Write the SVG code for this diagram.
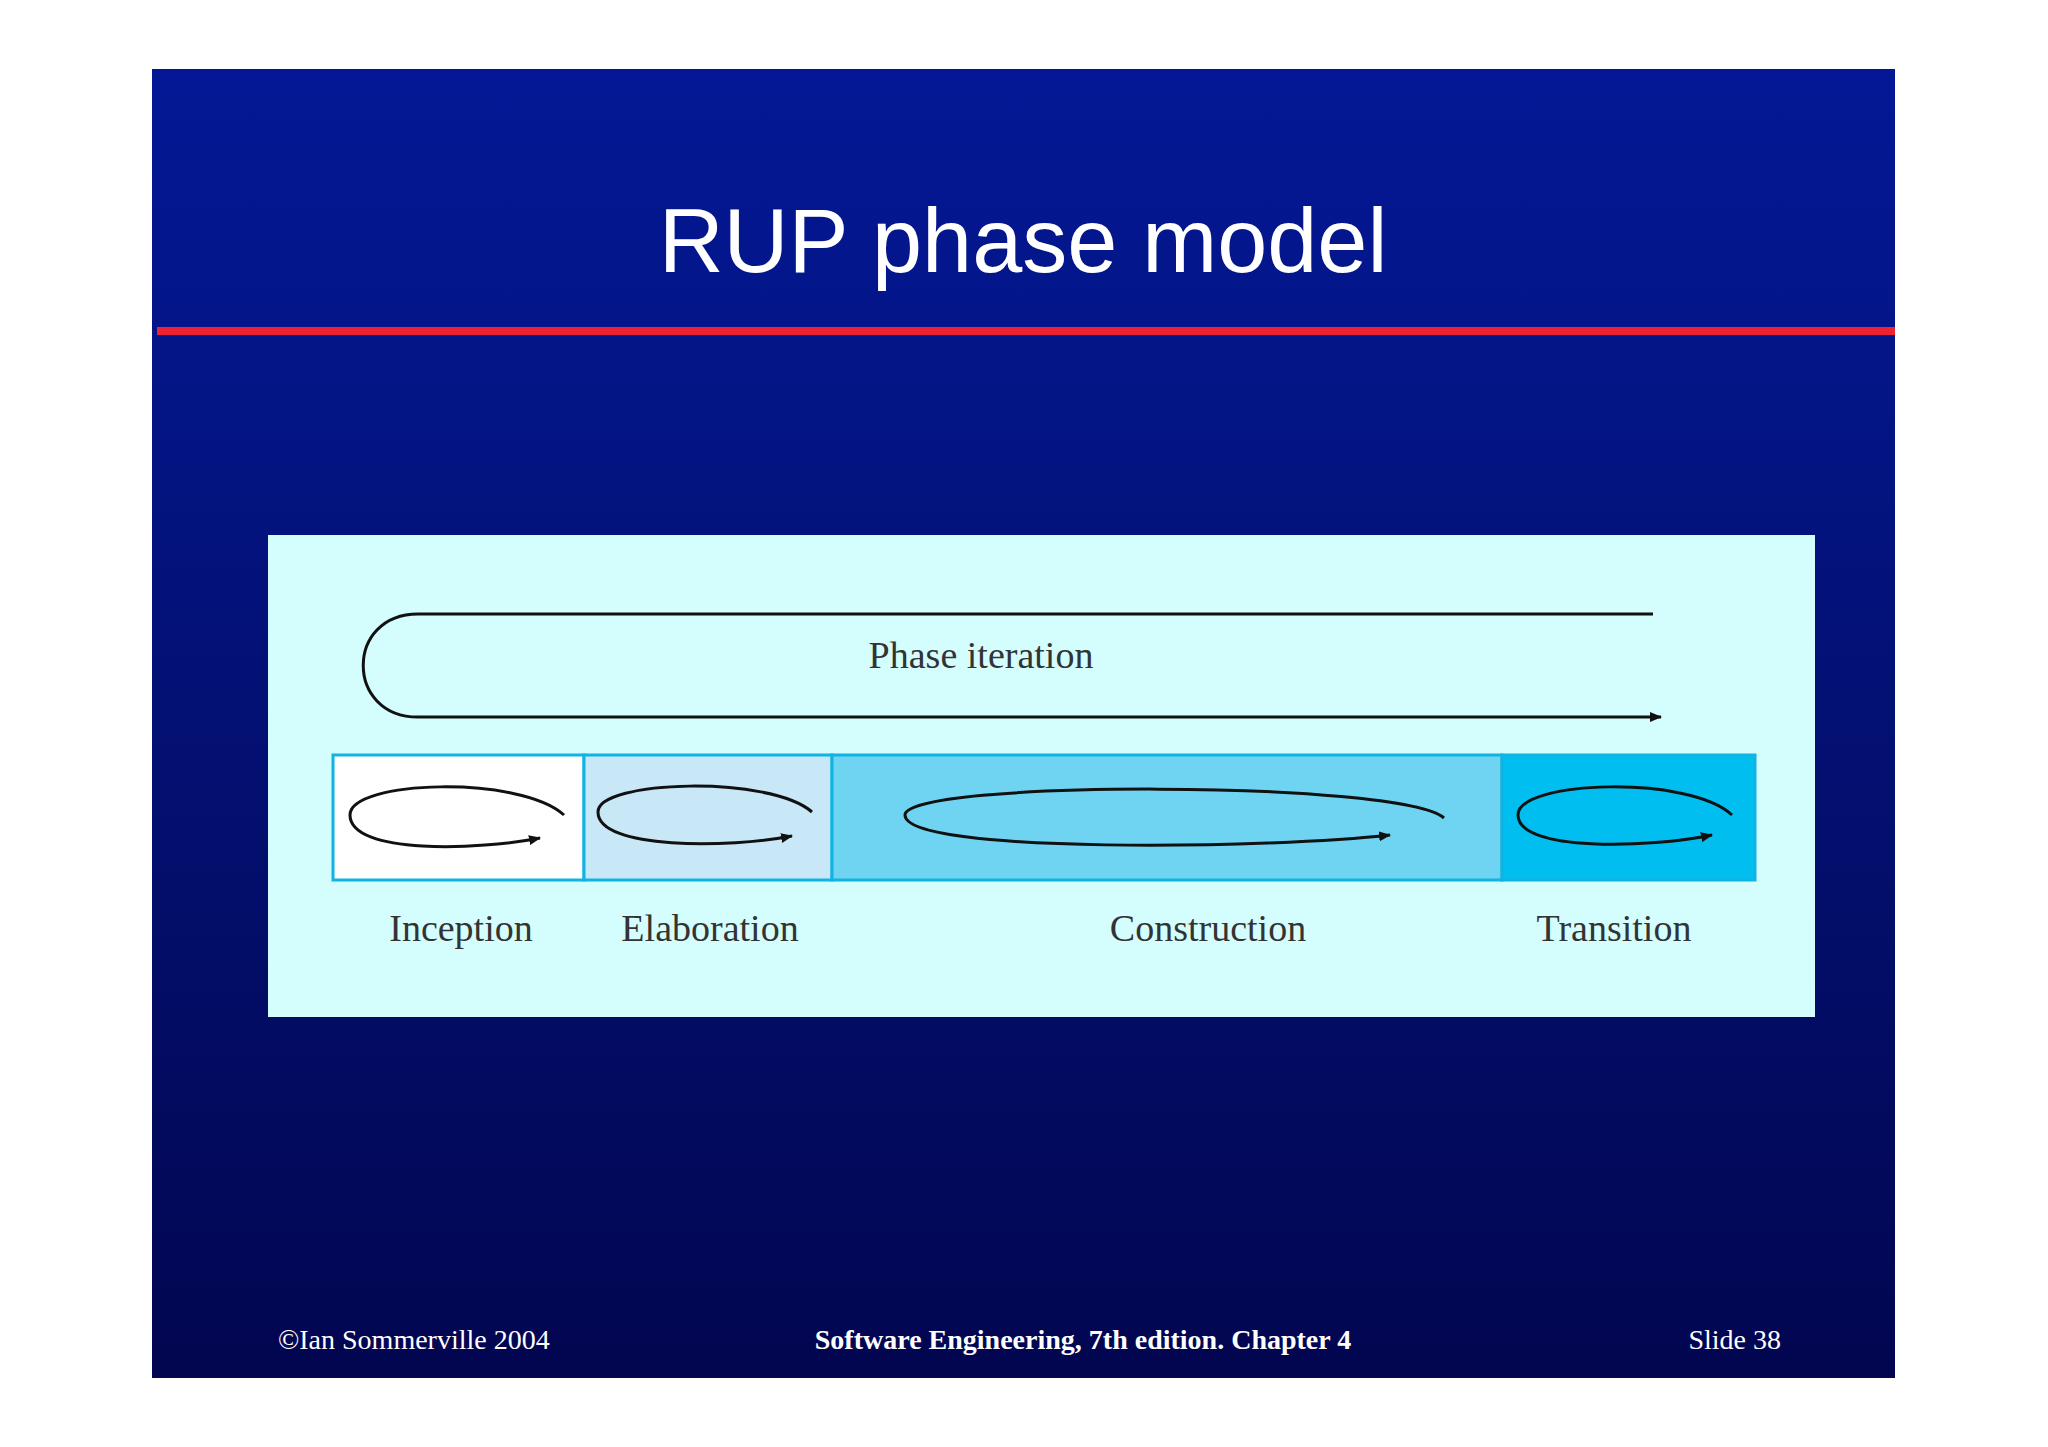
<svg xmlns="http://www.w3.org/2000/svg" width="2048" height="1447" viewBox="0 0 2048 1447">
<defs>
<linearGradient id="bg" x1="0" y1="0" x2="0" y2="1">
<stop offset="0" stop-color="#041896"/><stop offset="0.55" stop-color="#031070"/><stop offset="1" stop-color="#020650"/>
</linearGradient>
<marker id="ah" markerWidth="12" markerHeight="10" refX="11" refY="5" orient="auto" markerUnits="userSpaceOnUse">
<path d="M0,0 L12,5 L0,10 Z" fill="#111"/>
</marker>
<style>
.loop{fill:none;stroke:#111;stroke-width:3}
.lbl{font-family:"Liberation Serif",serif;font-size:38px;fill:#333;text-anchor:middle}
.foot{font-family:"Liberation Serif",serif;font-size:28px;fill:#fff}
.box{stroke:#11b4e0;stroke-width:3}
</style>
</defs>
<rect width="2048" height="1447" fill="#fff"/>
<rect x="152" y="69" width="1743" height="1309" fill="url(#bg)"/>
<text x="1023" y="272" font-family="Liberation Sans,Arial,sans-serif" font-size="90" fill="#fff" text-anchor="middle">RUP phase model</text>
<rect x="157" y="327" width="1738" height="8" fill="#ee2233"/>
<rect id="panel" x="268" y="535" width="1547" height="482" fill="#d4fdfd"/>
<g id="phase-iteration">
<path class="loop" d="M1653,614 L418,614 C345,614 345,717 418,717 L1661,717" marker-end="url(#ah)"/>
<text class="lbl" x="981" y="668">Phase iteration</text>
</g>
<g id="inception"><rect class="box" x="333" y="755" width="251" height="125" fill="#ffffff"/>
<text class="lbl" x="461" y="941">Inception</text></g>
<g id="elaboration"><rect class="box" x="584" y="755" width="248" height="125" fill="#c8e8f8"/>
<text class="lbl" x="710" y="941">Elaboration</text></g>
<g id="construction"><rect class="box" x="832" y="755" width="670" height="125" fill="#6ed4f2"/>
<text class="lbl" x="1208" y="941">Construction</text></g>
<g id="transition"><rect class="box" x="1502" y="755" width="253" height="125" fill="#00bff0"/>
<text class="lbl" x="1614" y="941">Transition</text></g>
<g id="connectors">
<path class="loop" d="M564,815 C520,775 350,780 350,815 C350,855 480,850 540,838" marker-end="url(#ah)"/>
<path class="loop" d="M812,812 C770,775 598,780 598,812 C598,850 730,848 792,836" marker-end="url(#ah)"/>
<path class="loop" d="M1444,818 C1400,780 905,780 905,815 C905,855 1280,848 1390,835" marker-end="url(#ah)"/>
<path class="loop" d="M1732,815 C1690,775 1518,780 1518,815 C1518,852 1650,848 1712,835" marker-end="url(#ah)"/>
</g>
<text class="foot" x="278" y="1349">©Ian Sommerville 2004</text>
<text class="foot" x="1083" y="1349" text-anchor="middle" font-weight="bold">Software Engineering, 7th edition. Chapter 4</text>
<text class="foot" x="1781" y="1349" text-anchor="end">Slide  38</text>
</svg>
